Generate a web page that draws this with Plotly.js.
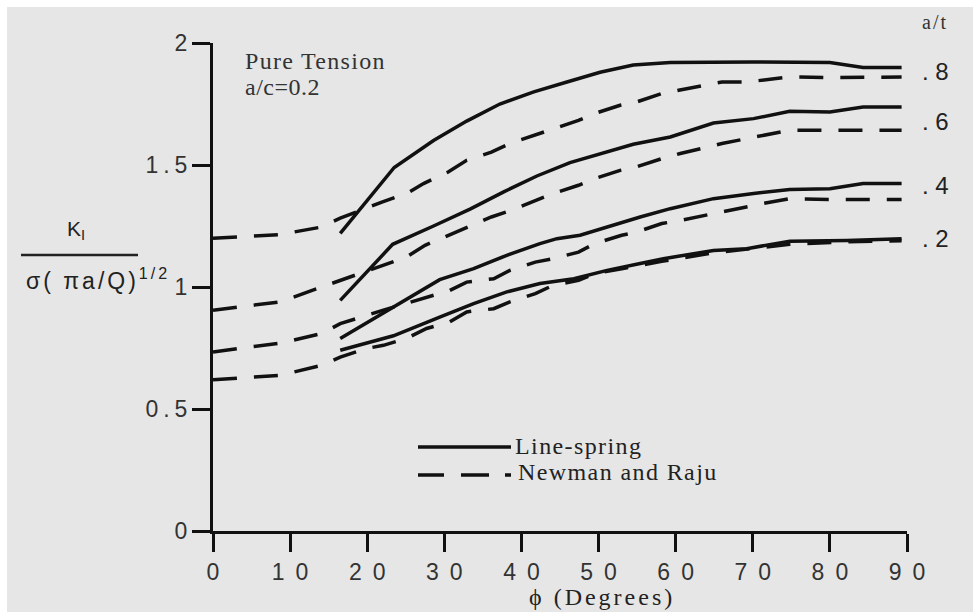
<!DOCTYPE html>
<html>
<head>
<meta charset="utf-8">
<script src="https://cdn.plot.ly/plotly-3.0.1.min.js"></script>
<style>
html,body{margin:0;padding:0;background:#fff;}
#chart{width:973px;height:612px;}
</style>
</head>
<body>
<div id="chart"></div>
<script>
// ---- data (phi in degrees, normalized K) ----
const phiLineSpring08 = [16.5, 23.5, 28.6, 32.9, 37.2, 41.6, 45.9, 50.2, 54.5, 59.3, 70.0, 80.0, 84.3, 89.3];
const kLineSpring08   = [1.22, 1.49, 1.60, 1.68, 1.75, 1.80, 1.84, 1.88, 1.91, 1.92, 1.922, 1.92, 1.90, 1.90];

const phiNewman08 = [0, 8.7, 14.1, 16.5, 21.9, 25.1, 27.3, 30.5, 32.9, 36.1, 38.5, 41.8, 44.1, 47.4, 49.5, 52.8, 54.9, 58.2, 63.8, 66.0, 69.2, 74.8, 80.0, 89.3];
const kNewman08   = [1.20, 1.215, 1.246, 1.282, 1.348, 1.383, 1.424, 1.471, 1.519, 1.553, 1.588, 1.622, 1.649, 1.683, 1.711, 1.745, 1.758, 1.793, 1.827, 1.840, 1.840, 1.861, 1.858, 1.861];

const phiLineSpring06 = [16.5, 23.3, 28.6, 33.4, 37.7, 42.0, 46.3, 50.6, 54.5, 59.3, 64.9, 70.1, 74.8, 80.0, 84.3, 89.3];
const kLineSpring06   = [0.945, 1.175, 1.25, 1.32, 1.39, 1.455, 1.51, 1.55, 1.585, 1.615, 1.672, 1.69, 1.72, 1.717, 1.738, 1.738];

const phiNewman06 = [0, 8.7, 14.1, 16.5, 19.1, 21.9, 25.1, 27.5, 30.5, 32.9, 36.1, 38.5, 41.8, 44.1, 47.4, 49.5, 52.8, 54.9, 58.2, 60.6, 63.8, 66.0, 69.2, 71.3, 74.8, 80.0, 89.3];
const kNewman06   = [0.905, 0.939, 1.0, 1.027, 1.055, 1.089, 1.123, 1.171, 1.212, 1.246, 1.287, 1.312, 1.352, 1.383, 1.417, 1.444, 1.478, 1.492, 1.526, 1.547, 1.571, 1.588, 1.608, 1.622, 1.643, 1.642, 1.642];

const phiLineSpring04 = [16.5, 23.4, 29.4, 33.8, 38.1, 42.4, 44.6, 47.6, 51.1, 55.4, 59.3, 64.9, 70.1, 74.8, 80.0, 84.3, 89.3];
const kLineSpring04   = [0.789, 0.918, 1.03, 1.075, 1.13, 1.178, 1.198, 1.212, 1.246, 1.287, 1.321, 1.362, 1.383, 1.40, 1.403, 1.424, 1.424];

const phiNewman04 = [0, 8.7, 14.1, 16.5, 22.1, 25.1, 27.7, 30.7, 32.9, 36.4, 38.5, 41.8, 44.1, 47.4, 49.5, 53.0, 54.9, 58.2, 60.6, 63.8, 66.0, 69.2, 71.3, 74.8, 80.0, 89.3];
const kNewman04   = [0.734, 0.770, 0.809, 0.850, 0.905, 0.932, 0.959, 0.986, 1.020, 1.034, 1.068, 1.102, 1.116, 1.143, 1.178, 1.212, 1.225, 1.260, 1.273, 1.294, 1.307, 1.328, 1.342, 1.362, 1.359, 1.359];

const phiLineSpring02 = [16.5, 23.4, 29.4, 33.8, 38.1, 42.4, 46.8, 51.1, 55.4, 58.4, 64.9, 69.2, 74.8, 82.2, 89.3];
const kLineSpring02   = [0.741, 0.80, 0.877, 0.932, 0.980, 1.014, 1.034, 1.068, 1.096, 1.116, 1.150, 1.157, 1.188, 1.191, 1.198];

const phiNewman02 = [0, 8.7, 14.1, 16.5, 19.9, 22.1, 25.1, 27.7, 30.7, 32.9, 36.4, 38.5, 41.8, 44.1, 47.4, 49.5, 53.0, 58.2, 64.9, 74.8, 82.2, 89.3];
const kNewman02   = [0.620, 0.638, 0.679, 0.713, 0.748, 0.761, 0.789, 0.830, 0.857, 0.898, 0.911, 0.939, 0.973, 1.007, 1.027, 1.055, 1.075, 1.105, 1.14, 1.175, 1.185, 1.19];

const ratioLabels = ['. 8', '. 6', '. 4', '. 2'];
const ratioLabelK = [1.885, 1.68, 1.414, 1.197];
const seriesNames = ['Line-spring', 'Newman and Raju'];
const xTickVals = [0, 10, 20, 30, 40, 50, 60, 70, 80, 90];
const yTickVals = [0, 0.5, 1, 1.5, 2];

// ---- build ----
const solid = {color: '#111', width: 3.5};
const dashed = {color: '#111', width: 3.5, dash: '24px,17px'};
function tr(x, y, line, name) {
  return {x: x, y: y, type: 'scatter', mode: 'lines', line: line, name: name, showlegend: false, hoverinfo: 'skip'};
}
const data = [
  tr(phiNewman08, kNewman08, dashed, seriesNames[1]),
  tr(phiNewman06, kNewman06, dashed, seriesNames[1]),
  tr(phiNewman04, kNewman04, dashed, seriesNames[1]),
  tr(phiNewman02, kNewman02, dashed, seriesNames[1]),
  tr(phiLineSpring08, kLineSpring08, solid, seriesNames[0]),
  tr(phiLineSpring06, kLineSpring06, solid, seriesNames[0]),
  tr(phiLineSpring04, kLineSpring04, solid, seriesNames[0]),
  tr(phiLineSpring02, kLineSpring02, solid, seriesNames[0])
];

const L = 213, R = 66, T = 43, B = 81, W = 973, H = 612;
const PW = W - L - R, PH = H - T - B;
const px = v => (v - L) / PW;           // pixel -> paper x
const py = v => (H - B - v) / PH;       // pixel -> paper y

const serif = 'Liberation Serif, Times New Roman, serif';
const sans = 'Liberation Sans, Arial, sans-serif';
const annSpacing = {};
const annotations = [];
function ann(o, ls) { if (ls) annSpacing[annotations.length] = ls; annotations.push(Object.assign({showarrow: false, borderpad: 0}, o)); }

ann({xref: 'paper', yref: 'paper', x: px(244), y: py(61), xanchor: 'left', yanchor: 'middle', align: 'left',
     text: 'Pure Tension', font: {family: serif, size: 24, color: '#333'}}, 1.3);
ann({xref: 'paper', yref: 'paper', x: px(244), y: py(87), xanchor: 'left', yanchor: 'middle', align: 'left',
     text: 'a/c=0.2', font: {family: serif, size: 24, color: '#333'}}, 0.5);
ann({xref: 'paper', yref: 'paper', x: px(935), y: py(22), xanchor: 'center', yanchor: 'middle',
     text: 'a/t', font: {family: serif, size: 20, color: '#333'}}, 2);
ratioLabels.forEach((t, i) => ann({xref: 'paper', yref: 'y', x: px(921), y: ratioLabelK[i], xanchor: 'left', yanchor: 'middle', align: 'left',
     text: t, font: {family: sans, size: 24, color: '#222'}}));
ann({xref: 'paper', yref: 'paper', x: px(514), y: py(446), xanchor: 'left', yanchor: 'middle', align: 'left',
     text: seriesNames[0], font: {family: serif, size: 24, color: '#222'}}, 1.4);
ann({xref: 'paper', yref: 'paper', x: px(517), y: py(472), xanchor: 'left', yanchor: 'middle', align: 'left',
     text: seriesNames[1], font: {family: serif, size: 24, color: '#222'}}, 1.4);
ann({xref: 'paper', yref: 'paper', x: px(528), y: py(597), xanchor: 'left', yanchor: 'middle', align: 'left',
     text: 'ϕ (Degrees)', font: {family: serif, size: 24, color: '#222'}}, 3);
ann({xref: 'paper', yref: 'paper', x: px(76), y: py(230), xanchor: 'center', yanchor: 'middle',
     text: 'K<sub>I</sub>', font: {family: sans, size: 21, color: '#222'}});
ann({xref: 'paper', yref: 'paper', x: px(25), y: py(279), xanchor: 'left', yanchor: 'middle', align: 'left',
     text: 'σ( πa/Q)<sup>1/2</sup>', font: {family: sans, size: 23, color: '#222'}}, 3);

const shapes = [
  {type: 'rect', xref: 'paper', yref: 'paper', x0: px(7), x1: px(990), y0: py(640), y1: py(7),
   fillcolor: '#e6e6e6', line: {width: 0}, layer: 'below'},
  {type: 'line', xref: 'paper', yref: 'paper', x0: px(21), x1: px(138), y0: py(255), y1: py(255),
   line: {color: '#222', width: 2.5}},
  {type: 'line', xref: 'paper', yref: 'paper', x0: px(418), x1: px(511), y0: py(447), y1: py(447),
   line: {color: '#111', width: 3.5}},
  {type: 'line', xref: 'paper', yref: 'paper', x0: px(418), x1: px(512), y0: py(475), y1: py(475),
   line: {color: '#111', width: 3.5, dash: '26px,17px,28px,16px,6px'}}
];

const layout = {
  width: W, height: H,
  margin: {l: L, r: R, t: T, b: B, pad: 0},
  paper_bgcolor: '#ffffff',
  plot_bgcolor: 'rgba(0,0,0,0)',
  showlegend: false,
  xaxis: {range: [0, 90], tickvals: xTickVals, showgrid: false, zeroline: false,
          showline: true, linecolor: '#111', linewidth: 3,
          ticks: 'outside', ticklen: 18, tickwidth: 3, tickcolor: '#111',
          tickfont: {family: sans, size: 23, color: '#333'}, fixedrange: true},
  yaxis: {range: [0, 2], tickvals: yTickVals, showgrid: false, zeroline: false,
          showline: true, linecolor: '#111', linewidth: 3,
          ticks: 'outside', ticklen: 18, tickwidth: 3, tickcolor: '#111',
          tickfont: {family: sans, size: 23, color: '#333'}, fixedrange: true},
  shapes: shapes,
  annotations: annotations
};

Plotly.newPlot('chart', data, layout, {staticPlot: true, displayModeBar: false}).then(() => {
  document.querySelectorAll('.xtick text').forEach(t => { t.style.letterSpacing = '11px'; t.setAttribute('dx', '5.5'); });
  document.querySelectorAll('.ytick text').forEach(t => { t.style.letterSpacing = '5px'; t.setAttribute('dx', '5'); });
  document.querySelectorAll('g.annotation').forEach(g => {
    const i = +g.getAttribute('data-index');
    const t = g.querySelector('text');
    if (t && annSpacing[i]) t.style.letterSpacing = annSpacing[i] + 'px';
  });
});
</script>
</body>
</html>
